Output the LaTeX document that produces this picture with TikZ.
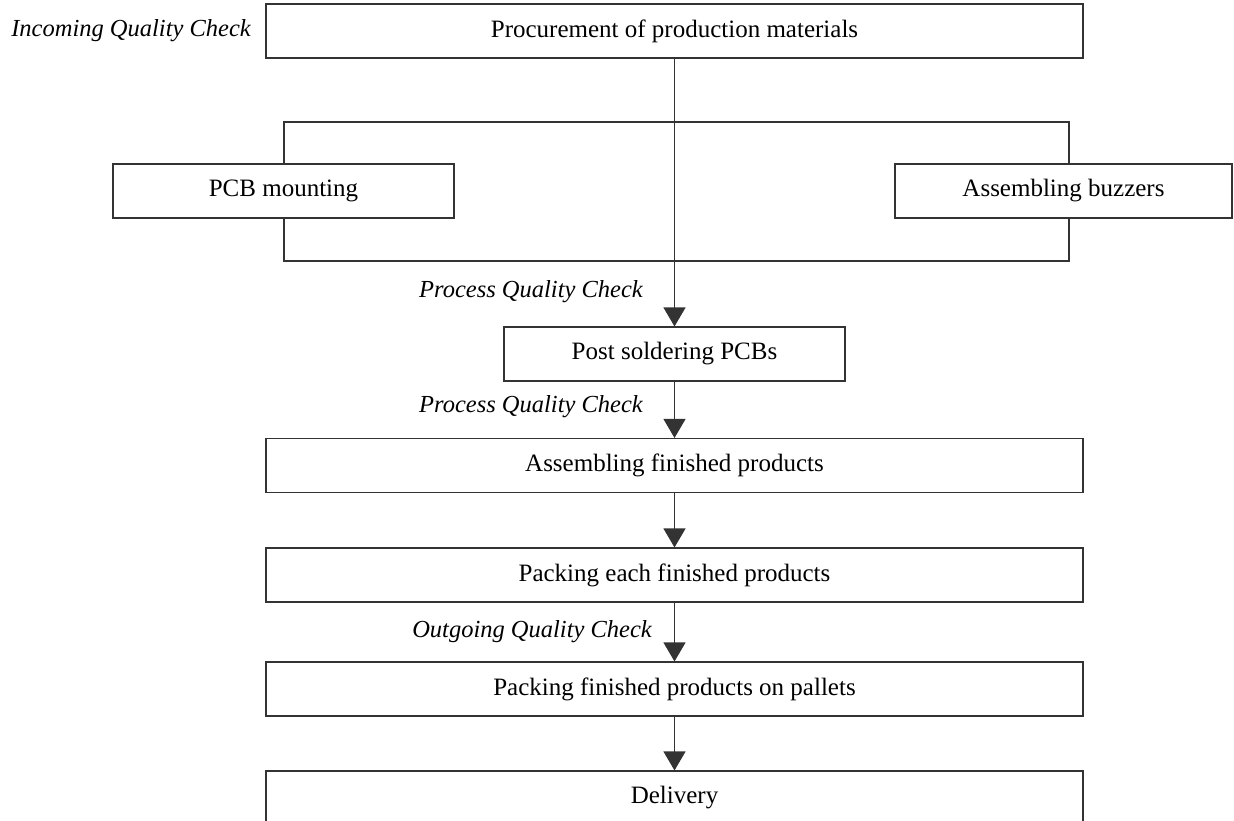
\documentclass[tikz,border=0pt]{standalone}
\usepackage{fontspec}
\setmainfont{Liberation Serif}
\usetikzlibrary{arrows.meta}
\begin{document}
\begin{tikzpicture}[x=1pt,y=-1pt,
  box/.style={draw=black!80, line width=1.1pt, fill=white, inner sep=0pt,
    minimum height=54pt, font=\fontsize{25}{30}\selectfont},
  widebox/.style={box, minimum width=817pt},
  qc/.style={inner sep=0pt, anchor=east, font=\fontsize{24.5}{30}\selectfont\itshape},
  link/.style={draw=black!80, line width=1.1pt},
  flow/.style={link, -{Triangle[width=22pt,length=19pt]}}]
\useasboundingbox (0,0) rectangle (1234,821);
\clip (0,0) rectangle (1234,821);

% process steps
\node[widebox] (proc) at (674.5,31) {Procurement of production materials};
\node[box, minimum width=341pt] (pcb) at (283.5,191) {PCB mounting};
\node[box, minimum width=337pt] (buzz) at (1063.5,191) {Assembling buzzers};
\node[box, minimum width=341pt] (ps) at (674.5,354) {Post soldering PCBs};
\node[widebox] (afp) at (674.5,465.5) {Assembling finished products};
\node[widebox] (pef) at (674.5,575) {Packing each finished products};
\node[widebox] (ppp) at (674.5,689) {Packing finished products on pallets};
\node[widebox] (del) at (674.5,798) {Delivery};

% quality check labels
\node[qc] (iqc) at (251,31) {Incoming Quality Check};
\node[qc] (pqc1) at (643,292) {Process Quality Check};
\node[qc] (pqc2) at (643,407) {Process Quality Check};
\node[qc] (oqc) at (652,632) {Outgoing Quality Check};

% frame joining the two parallel steps
\coordinate (lt) at (284,122);
\coordinate (rt) at (1069,122);
\coordinate (lb) at (284,261);
\coordinate (rb) at (1069,261);
\draw[link] (pcb.north -| lt) -- (lt) -- (rt) -- (buzz.north -| rt);
\draw[link] (pcb.south -| lb) -- (lb) -- (rb) -- (buzz.south -| rb);

% main flow
\draw[flow] (proc.south) -- (ps.north);
\draw[flow] (ps.south) -- (afp.north);
\draw[flow] (afp.south) -- (pef.north);
\draw[flow] (pef.south) -- (ppp.north);
\draw[flow] (ppp.south) -- (del.north);
\end{tikzpicture}
\end{document}
